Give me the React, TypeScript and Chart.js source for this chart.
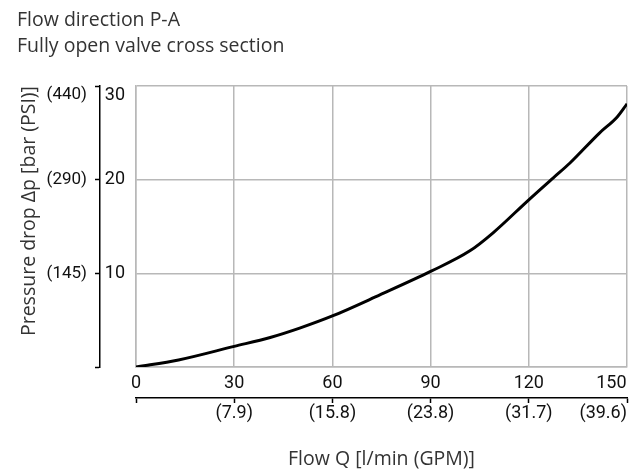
import { useEffect, useRef } from 'react';
import { Chart, registerables } from 'chart.js';

Chart.register(...registerables);

// Flow Q [l/min] and pressure drop Δp [bar]
const flowLpm = [0, 13, 30, 41, 50, 60, 74.5, 90, 102, 109, 120, 127.5, 132.5, 141.5, 147, 150];
const pressureBar = [0, 0.75, 2.2, 3.15, 4.15, 5.45, 7.7, 10.2, 12.4, 14.3, 17.85, 20.2, 21.75, 24.95, 26.7, 28.1];

const barLabels = ['', '10', '20', '30'];
const psiLabels = ['', '(145)', '(290)', '(440)'];
const lpmLabels = ['0', '30', '60', '90', '120', '150'];
const gpmLabels = ['', '(7.9)', '(15.8)', '(23.8)', '(31.7)', '(39.6)'];

const titleLines = ['Flow direction P-A', 'Fully open valve cross section'];
const xTitle = 'Flow Q [l/min (GPM)]';
const yTitle = 'Pressure drop Δp [bar (PSI)]';

const TICK_FONT = "Roboto, 'Liberation Sans', sans-serif";
const TEXT_FONT = "'Open Sans', 'Noto Sans', sans-serif";
const GRID = '#b8b8b8';

export default function App() {
  const ref = useRef<HTMLCanvasElement>(null);

  useEffect(() => {
    if (!ref.current) return;
    // top label sits a little below its tick in the reference
    const topShift = (labels: string[], idx: number) =>
      idx === labels.length - 1 ? ['', labels[idx]] : labels[idx];
    // last x label is kept inside the plot's right edge
    const lastInside = (labels: string[], idx: number) =>
      idx === labels.length - 1 ? labels[idx] + '       ' : labels[idx];

    const chart = new Chart(ref.current, {
      type: 'line',
      data: {
        datasets: [
          {
            data: flowLpm.map((x, i) => ({ x, y: pressureBar[i] })),
            borderColor: '#000',
            borderWidth: 3,
            pointRadius: 0,
            cubicInterpolationMode: 'monotone',
            fill: false,
          },
        ],
      },
      options: {
        responsive: false,
        animation: false,
        layout: { padding: { left: 17, right: 3, top: 0, bottom: 0 } },
        plugins: {
          legend: { display: false },
          tooltip: { enabled: false },
          title: {
            display: true,
            text: titleLines,
            align: 'start',
            color: '#333',
            font: { family: TEXT_FONT, size: 19.5, weight: 'normal', lineHeight: 26 / 19.5 },
            padding: { top: 7, bottom: 27 },
          },
        },
        scales: {
          x: {
            type: 'linear',
            position: 'bottom',
            min: 0,
            max: 150,
            weight: 0,
            grid: { color: GRID, lineWidth: 1.5, drawTicks: false },
            border: { display: true, color: GRID, width: 1.5 },
            ticks: {
              stepSize: 30,
              maxRotation: 0,
              autoSkip: false,
              padding: 6,
              color: '#111',
              font: { family: TICK_FONT, size: 18 },
              callback: (_v: any, i: number) => lastInside(lpmLabels, i),
            },
            afterFit: (s: any) => {
              s.height = 31;
              s.paddingLeft = 0;
              s.paddingRight = 0;
            },
          },
          x2: {
            type: 'linear',
            axis: 'x',
            position: 'bottom',
            min: 0,
            max: 150,
            weight: 1,
            grid: { drawOnChartArea: false, drawTicks: true, tickLength: 5, tickColor: '#000', tickWidth: 1.5 },
            border: { display: true, color: '#000', width: 1.5 },
            ticks: {
              stepSize: 30,
              align: 'inner',
              maxRotation: 0,
              autoSkip: false,
              padding: 0,
              color: '#111',
              font: { family: TICK_FONT, size: 18 },
              callback: (_v: any, i: number) => gpmLabels[i],
            },
            title: {
              display: true,
              text: xTitle,
              color: '#333',
              font: { family: TEXT_FONT, size: 19.5 },
              padding: { top: 0, bottom: 1 },
            },
            afterFit: (s: any) => {
              s.height = 74;
              s.paddingLeft = 0;
              s.paddingRight = 0;
            },
          },
          y: {
            type: 'linear',
            position: 'left',
            min: 0,
            max: 30,
            weight: 0,
            grid: { color: GRID, lineWidth: 1.5, drawTicks: false },
            border: { display: true, color: GRID, width: 1.5 },
            ticks: {
              stepSize: 10,
              padding: 11,
              color: '#111',
              font: { family: TICK_FONT, size: 18, lineHeight: 1 },
              callback: (_v: any, i: number) => topShift(barLabels, i),
            },
            afterFit: (s: any) => {
              s.width = 36;
              s.paddingTop = 0;
              s.paddingBottom = 0;
            },
          },
          y2: {
            type: 'linear',
            axis: 'y',
            position: 'left',
            min: 0,
            max: 30,
            weight: 1,
            grid: { drawOnChartArea: false, drawTicks: true, tickLength: 5, tickColor: '#000', tickWidth: 1.5 },
            border: { display: true, color: '#000', width: 1.5 },
            ticks: {
              stepSize: 10,
              padding: 8,
              color: '#111',
              font: { family: TICK_FONT, size: 17, lineHeight: 1 },
              callback: (_v: any, i: number) => topShift(psiLabels, i),
            },
            title: {
              display: true,
              text: yTitle,
              align: 'end',
              color: '#333',
              font: { family: TEXT_FONT, size: 19.5 },
              padding: { top: 1, bottom: 0 },
            },
            afterFit: (s: any) => {
              s.width = 83;
              s.paddingTop = 0;
              s.paddingBottom = 0;
            },
          },
        },
      },
    } as any);
    return () => chart.destroy();
  }, []);

  return (
    <div style={{ position: 'fixed', left: 0, top: 0, width: 630, height: 472, background: '#fff' }}>
      <canvas ref={ref} width={630} height={472} style={{ display: 'block' }} />
    </div>
  );
}
